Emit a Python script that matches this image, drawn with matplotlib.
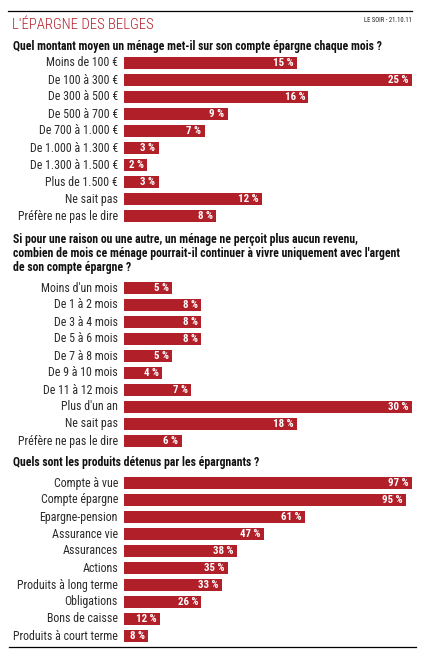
import matplotlib
matplotlib.use('Agg')
import matplotlib.pyplot as plt
from matplotlib.lines import Line2D

# --- DATA ---
q1_title = "Quel montant moyen un ménage met-il sur son compte épargne chaque mois ?"
q1_labels = ["Moins de 100 €", "De 100 à 300 €", "De 300 à 500 €", "De 500 à 700 €",
             "De 700 à 1.000 €", "De 1.000 à 1.300 €", "De 1.300 à 1.500 €",
             "Plus de 1.500 €", "Ne sait pas", "Préfère ne pas le dire"]
q1_values = [15, 25, 16, 9, 7, 3, 2, 3, 12, 8]

q2_title = ("Si pour une raison ou une autre, un ménage ne perçoit plus aucun revenu,\n"
            "combien de mois ce ménage pourrait-il continuer à vivre uniquement avec l'argent\n"
            "de son compte épargne ?")
q2_labels = ["Moins d'un mois", "De 1 à 2 mois", "De 3 à 4 mois", "De 5 à 6 mois",
             "De 7 à 8 mois", "De 9 à 10 mois", "De 11 à 12 mois", "Plus d'un an",
             "Ne sait pas", "Préfère ne pas le dire"]
q2_values = [5, 8, 8, 8, 5, 4, 7, 30, 18, 6]

q3_title = "Quels sont les produits détenus par les épargnants ?"
q3_labels = ["Compte à vue", "Compte épargne", "Epargne-pension", "Assurance vie",
             "Assurances", "Actions", "Produits à long terme", "Obligations",
             "Bons de caisse", "Produits à court terme"]
q3_values = [97, 95, 61, 47, 38, 35, 33, 26, 12, 8]

RED = '#b11f29'
COND = ['Roboto Condensed', 'DejaVu Sans']

W, H = 424, 656
fig = plt.figure(figsize=(W / 100, H / 100), dpi=100)


def fx(px):
    return px / W


def fy(py):
    return 1 - py / H


# header
fig.add_artist(Line2D([fx(8), fx(412)], [fy(11), fy(11)], color='black', lw=0.9))
fig.text(fx(12), fy(25), "L'ÉPARGNE DES BELGES", color=RED, fontsize=10.6,
         family=COND, fontweight='light', va='center', ha='left')
fig.text(fx(412), fy(20), "LE SOIR - 21.10.11", color='#222222', fontsize=4.8,
         family=COND, va='center', ha='right')


def panel(top_px, labels, values, title, title_y):
    fig.text(fx(13), fy(title_y), title, fontsize=8.5, fontweight='bold',
             family=COND, va='top', ha='left', linespacing=1.12, color='#111111')
    n = len(labels)
    ax = fig.add_axes([fx(124), fy(top_px + 17 * n), fx(412) - fx(124), 17 * n / H])
    ypos = list(range(n))
    ax.barh(ypos, values, height=0.76, color=RED)
    ax.set_xlim(0, max(values))
    ax.set_ylim(n - 0.5, -0.5)
    ax.axis('off')
    for y, lab, v in zip(ypos, labels, values):
        ax.text(-0.021 * max(values), y, lab, ha='right', va='center', fontsize=8.6,
                family=COND, color='#2a2a2a')
        ax.text(v - 0.011 * max(values), y, f"{v} %", ha='right', va='center',
                fontsize=7.8, fontweight='bold', family=COND, color='white')
    return ax


panel(54.5, q1_labels, q1_values, q1_title, 40)
panel(279.5, q2_labels, q2_values, q2_title, 233)
panel(474.5, q3_labels, q3_values, q3_title, 456)

fig.add_artist(Line2D([fx(9), fx(416)], [fy(647), fy(647)], color='black', lw=0.9))

fig.savefig('out.png', dpi=100, facecolor='white')
